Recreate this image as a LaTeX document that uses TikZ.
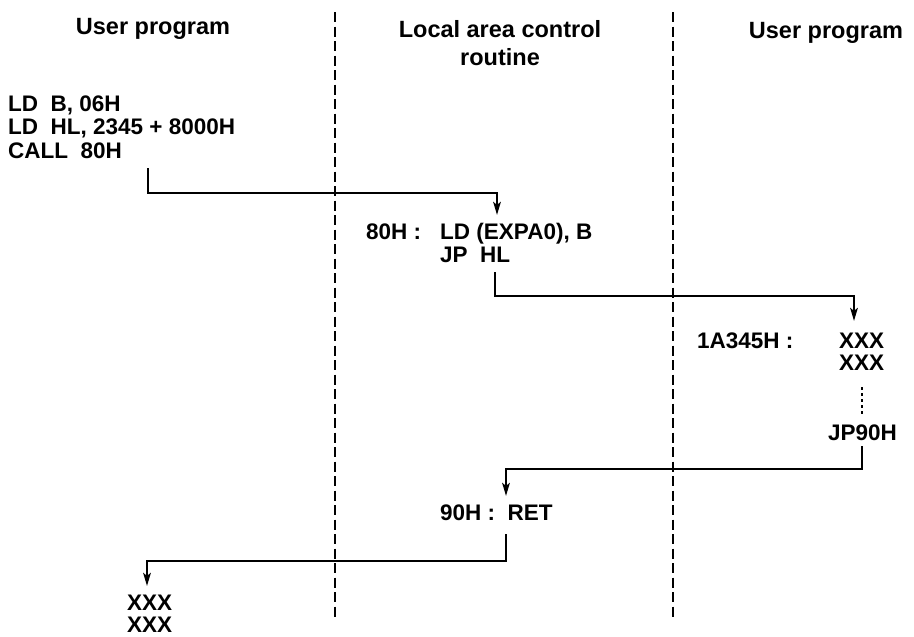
\documentclass[tikz,border=0pt]{standalone}
\usepackage{fontspec}
\setmainfont{Liberation Sans}
\usetikzlibrary{arrows.meta}

\begin{document}
\begin{tikzpicture}[
  x=1pt, y=-1pt,
  heading/.style={
    font=\fontsize{23.5}{28}\selectfont\bfseries,
    align=center,
    inner sep=0pt
  },
  listing/.style={
    font=\fontsize{22.5}{22.5}\selectfont\bfseries,
    align=left,
    anchor=west,
    inner sep=0pt
  },
  divider/.style={line width=2.8pt, dash pattern=on 10pt off 4.5pt},
  jump/.style={-{Stealth[length=13pt,width=7.5pt,inset=3pt]}, line width=2.5pt}
]
  \useasboundingbox (0,0) rectangle (914,637);

  \node[heading] (lefttitle) at (153,29) {User program};
  \node[heading] (midtitle) at (500,43) {Local area control\\routine};
  \node[heading] (righttitle) at (826,33) {User program};

  \draw[divider] (335,12) -- (335,620);
  \draw[divider] (673,12) -- (673,618);

  \node[listing, font=\fontsize{22.5}{23.5}\selectfont\bfseries] (caller) at (8,127)
    {LD\ \ B, 06H\\LD\ \ HL, 2345 + 8000H\\CALL\ \ 80H};
  \node[listing] (addr80) at (366,232) {80H :};
  \node[listing] (setexpa) at (440,243) {LD (EXPA0), B\\JP\ \ HL};
  \node[listing] (addr1a) at (697,341) {1A345H :};
  \node[listing] (target) at (839,352) {XXX\\XXX};
  \node[listing] (jp90) at (828,433) {JP90H};
  \node[listing] (ret90) at (440,513) {90H :\ \ RET};
  \node[listing] (resume) at (127,614) {XXX\\XXX};

  \draw[line width=2.4pt, dash pattern=on 2.5pt off 3.5pt] (862,387) -- (862,414);

  \coordinate (callout) at (148,168);
  \coordinate (entry80) at (497,215);
  \coordinate (jpout) at (495,272);
  \coordinate (entry1a) at (854,321);
  \coordinate (jp90out) at (862,446);
  \coordinate (entry90) at (506,496);
  \coordinate (retout) at (506,534);
  \coordinate (backin) at (147,586);

  \draw[jump] (callout) -- ++(0,25) -| (entry80);
  \draw[jump] (jpout) -- ++(0,24) -| (entry1a);
  \draw[jump] (jp90out) -- ++(0,23) -| (entry90);
  \draw[jump] (retout) -- ++(0,27) -| (backin);
\end{tikzpicture}
\end{document}
